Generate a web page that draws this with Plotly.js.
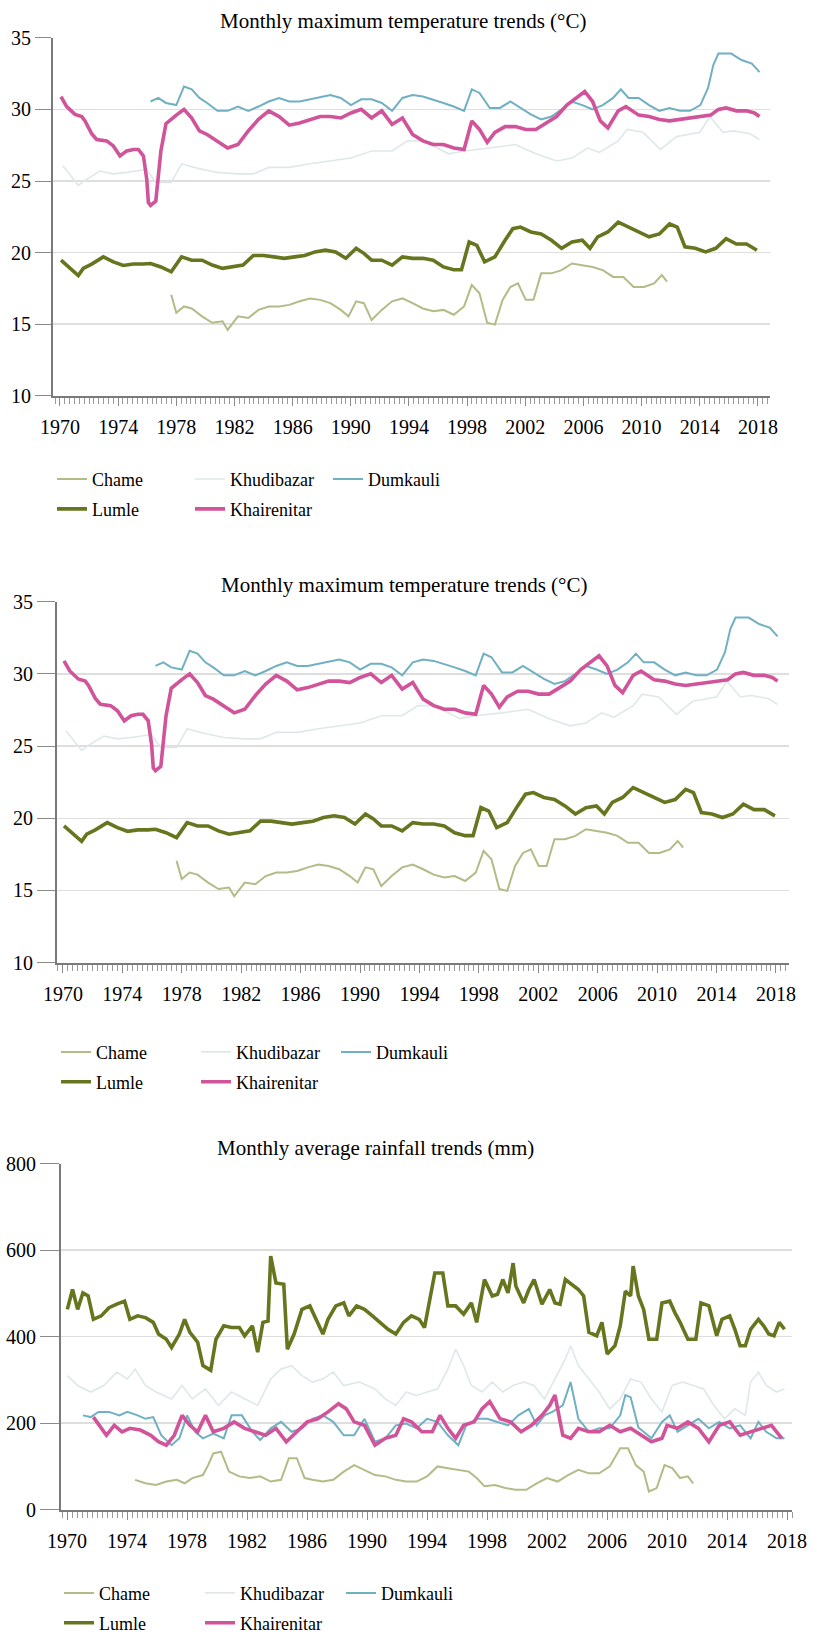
<!DOCTYPE html>
<html>
<head>
<meta charset="utf-8">
<script src="https://cdn.plot.ly/plotly-3.0.1.min.js"></script>
<style>
  html, body { margin: 0; padding: 0; background: #ffffff; }
  #chart { width: 813px; height: 1642px; }
</style>
</head>
<body>
<div id="chart"></div>
<script>
// ---------------- DATA ----------------
const tickYears = [1970, 1974, 1978, 1982, 1986, 1990, 1994, 1998, 2002, 2006, 2010, 2014, 2018];
const tickLabels = ["1970", "1974", "1978", "1982", "1986", "1990", "1994", "1998", "2002", "2006", "2010", "2014", "2018"];
const tempTicks = [10, 15, 20, 25, 30, 35];
const rainTicks = [0, 200, 400, 600, 800];
const stationNames = ["Chame", "Khudibazar", "Dumkauli", "Lumle", "Khairenitar"];
const titleTemp = "Monthly maximum temperature trends (°C)";
const titleRain = "Monthly average rainfall trends (mm)";

// Temperature (°C)
const tChameYears = [1977.65,1978.0,1978.53,1979.06,1979.77,1980.47,1981.18,1981.53,1982.24,1982.95,1983.65,1984.36,1985.07,1985.77,1986.48,1987.19,1987.89,1988.6,1989.31,1989.84,1990.37,1990.9,1991.43,1992.13,1992.84,1993.55,1994.25,1994.96,1995.67,1996.37,1997.08,1997.79,1998.32,1998.85,1999.38,1999.91,2000.44,2000.97,2001.5,2002.03,2002.56,2003.09,2003.8,2004.5,2005.21,2005.92,2006.63,2007.33,2008.04,2008.75,2009.45,2010.16,2010.86,2011.39,2011.75];
const tChame = [17.05,15.8,16.24,16.1,15.55,15.1,15.2,14.6,15.55,15.43,16.0,16.24,16.24,16.35,16.6,16.8,16.7,16.47,16.0,15.55,16.6,16.47,15.3,16.0,16.6,16.8,16.47,16.1,15.9,16.0,15.66,16.24,17.74,17.16,15.1,14.97,16.7,17.6,17.85,16.7,16.7,18.55,18.55,18.78,19.24,19.13,19.0,18.78,18.3,18.3,17.6,17.6,17.85,18.43,17.97];

const tKhudiYears = [1970.2,1971.26,1971.8,1972.75,1973.67,1974.6,1975.96,1976.59,1977.65,1978.36,1979.41,1980.83,1982.24,1983.3,1984.36,1985.77,1987.19,1988.6,1990.01,1991.43,1992.84,1993.9,1994.96,1996.73,1997.79,1999.56,2001.32,2002.73,2004.15,2005.21,2006.27,2007.1,2008.39,2009.0,2010.1,2011.3,2012.4,2014.0,2014.7,2015.6,2016.3,2017.45,2018.1];
const tKhudi = [26.06,24.7,25.1,25.7,25.5,25.6,25.8,24.9,24.9,26.2,25.9,25.6,25.5,25.5,25.95,25.95,26.2,26.4,26.6,27.1,27.1,27.8,27.8,26.9,27.1,27.3,27.55,26.9,26.4,26.6,27.3,27.0,27.8,28.6,28.4,27.2,28.1,28.4,29.5,28.4,28.5,28.3,27.9];

const tDumkYears = [1976.23,1976.76,1977.29,1978.0,1978.53,1979.06,1979.59,1980.12,1980.83,1981.53,1982.24,1982.95,1983.65,1984.36,1985.07,1985.77,1986.48,1987.19,1987.89,1988.6,1989.31,1990.01,1990.72,1991.43,1992.13,1992.84,1993.55,1994.25,1994.96,1995.67,1996.37,1997.08,1997.79,1998.32,1998.85,1999.56,2000.26,2000.97,2001.67,2002.38,2003.09,2003.8,2004.5,2005.21,2005.92,2006.63,2007.33,2008.04,2008.57,2009.1,2009.8,2010.51,2011.22,2011.92,2012.63,2013.33,2014.04,2014.57,2014.93,2015.28,2015.81,2016.16,2016.87,2017.58,2018.11];
const tDumk = [30.55,30.8,30.45,30.3,31.6,31.4,30.8,30.45,29.9,29.9,30.2,29.9,30.2,30.55,30.8,30.55,30.55,30.7,30.9,31.0,30.8,30.3,30.7,30.7,30.45,29.9,30.8,31.0,30.9,30.7,30.45,30.2,29.9,31.4,31.15,30.1,30.1,30.55,30.1,29.65,29.3,29.5,30.0,30.55,30.3,30.0,30.3,30.8,31.4,30.8,30.8,30.3,29.9,30.1,29.9,29.9,30.3,31.5,33.1,33.9,33.9,33.9,33.45,33.2,32.6];

const tLumleYears = [1970.07,1970.46,1971.26,1971.6,1972.18,1972.98,1973.67,1974.35,1975.04,1975.73,1976.23,1976.94,1977.65,1978.36,1979.06,1979.77,1980.47,1981.18,1981.89,1982.59,1983.3,1984.01,1984.71,1985.42,1986.13,1986.83,1987.54,1988.25,1988.95,1989.66,1990.37,1990.9,1991.43,1992.13,1992.84,1993.55,1994.25,1994.96,1995.67,1996.37,1997.08,1997.61,1998.14,1998.67,1999.2,1999.91,2000.61,2001.14,2001.67,2002.38,2003.09,2003.8,2004.5,2005.21,2005.92,2006.45,2006.98,2007.68,2008.39,2009.1,2009.8,2010.51,2011.22,2011.92,2012.45,2012.98,2013.69,2014.4,2015.1,2015.81,2016.52,2017.22,2017.93];
const tLumle = [19.47,19.1,18.4,18.9,19.2,19.7,19.35,19.1,19.2,19.2,19.24,19.0,18.66,19.7,19.47,19.47,19.13,18.9,19.0,19.13,19.8,19.8,19.7,19.6,19.7,19.8,20.05,20.17,20.05,19.6,20.3,19.95,19.47,19.47,19.13,19.7,19.6,19.6,19.47,19.0,18.8,18.8,20.74,20.5,19.36,19.7,20.86,21.67,21.78,21.44,21.3,20.86,20.3,20.74,20.86,20.3,21.1,21.44,22.13,21.78,21.44,21.1,21.3,22.0,21.78,20.4,20.3,20.05,20.3,20.98,20.6,20.6,20.17];

const tKhairYears = [1970.07,1970.46,1971.03,1971.5,1971.72,1972.18,1972.52,1973.21,1973.67,1974.13,1974.59,1975.05,1975.39,1975.74,1975.97,1976.08,1976.23,1976.59,1976.94,1977.29,1978.0,1978.53,1979.06,1979.59,1980.12,1980.83,1981.53,1982.24,1982.95,1983.65,1984.36,1985.07,1985.77,1986.48,1987.19,1987.89,1988.6,1989.31,1990.01,1990.72,1991.43,1992.13,1992.84,1993.55,1994.25,1994.96,1995.67,1996.37,1997.08,1997.79,1998.32,1998.85,1999.38,1999.91,2000.61,2001.32,2002.03,2002.73,2003.44,2004.15,2004.86,2005.56,2006.09,2006.63,2007.16,2007.68,2008.39,2008.92,2009.8,2010.51,2011.22,2011.92,2012.63,2013.33,2014.04,2014.75,2015.28,2015.81,2016.52,2017.22,2017.76,2018.11];
const tKhair = [30.9,30.2,29.65,29.5,29.2,28.3,27.9,27.8,27.45,26.75,27.1,27.2,27.2,26.75,25.1,23.5,23.3,23.6,27.1,29.0,29.6,30.0,29.4,28.5,28.25,27.8,27.3,27.55,28.5,29.3,29.9,29.5,28.9,29.05,29.3,29.5,29.5,29.4,29.75,30.0,29.4,29.9,28.95,29.4,28.25,27.8,27.55,27.55,27.3,27.2,29.2,28.6,27.7,28.4,28.8,28.8,28.6,28.6,29.05,29.5,30.3,30.8,31.25,30.55,29.2,28.7,29.9,30.2,29.6,29.5,29.3,29.2,29.3,29.4,29.5,29.6,30.0,30.1,29.9,29.9,29.75,29.5];

// Rainfall (mm)
const rChameYears = [1974.54,1975.23,1975.93,1976.62,1977.32,1977.84,1978.36,1979.06,1979.41,1979.75,1980.27,1980.8,1981.49,1982.19,1982.88,1983.58,1984.27,1984.79,1985.32,1985.84,1986.36,1987.06,1987.75,1988.45,1989.14,1989.83,1990.53,1991.22,1991.92,1992.61,1993.31,1994.0,1994.7,1995.39,1996.09,1996.79,1997.31,1997.83,1998.53,1999.22,1999.92,2000.61,2001.31,2002.0,2002.7,2003.4,2004.09,2004.79,2005.48,2006.18,2006.88,2007.4,2007.92,2008.44,2008.79,2009.31,2009.83,2010.35,2010.87,2011.39,2011.74];
const rChame = [69,61,57,65,69,61,73,80,103,130,134,88,77,73,77,65,69,119,119,73,69,65,69,88,103,92,80,77,69,65,65,77,100,96,92,88,73,54,57,50,46,46,61,73,65,80,92,84,84,100,142,142,103,88,42,50,103,96,73,77,61];

const rKhudiYears = [1970.02,1970.71,1971.58,1972.45,1973.32,1974.02,1974.54,1975.23,1975.93,1976.97,1977.67,1978.36,1979.23,1980.1,1980.97,1981.84,1982.71,1983.58,1984.27,1984.97,1985.66,1986.36,1987.06,1987.75,1988.45,1989.49,1990.53,1991.22,1991.92,1992.61,1993.31,1994.0,1994.7,1995.39,1995.91,1996.44,1996.96,1997.66,1998.35,1999.05,1999.74,2000.44,2001.14,2001.83,2002.53,2003.22,2003.57,2004.09,2004.79,2005.48,2006.18,2006.88,2007.57,2008.26,2008.96,2009.66,2010.35,2011.05,2011.74,2012.44,2013.13,2013.83,2014.52,2015.22,2015.57,2016.09,2016.61,2017.3,2017.83];
const rKhudi = [310,287,272,287,318,302,325,287,272,256,287,256,279,241,272,256,241,302,325,333,310,295,302,318,287,295,279,256,241,272,264,272,279,325,371,333,287,272,295,272,287,295,287,256,302,348,379,333,302,272,233,256,302,295,256,226,287,295,287,279,241,210,233,218,295,318,287,272,279];

const rDumkYears = [1971.06,1971.58,1972.1,1972.8,1973.49,1974.02,1974.71,1975.23,1975.75,1976.28,1976.97,1977.49,1978.01,1978.54,1979.06,1979.75,1980.45,1980.97,1981.66,1982.36,1982.88,1983.58,1984.27,1984.97,1985.66,1986.36,1987.06,1987.75,1988.45,1989.14,1989.83,1990.53,1991.22,1991.92,1992.61,1993.31,1994.0,1994.7,1995.39,1996.09,1996.61,1997.31,1998.01,1998.7,1999.4,2000.09,2000.79,2001.31,2001.83,2002.35,2003.05,2003.57,2004.09,2004.79,2005.48,2006.18,2006.88,2007.22,2007.57,2008.09,2008.96,2009.66,2010.18,2010.7,2011.39,2012.09,2012.79,2013.48,2014.18,2014.87,2015.57,2016.09,2016.61,2017.3,2017.83];
const rDumk = [218,214,226,226,218,226,218,210,214,172,149,165,218,180,165,176,165,218,218,180,161,188,203,180,188,210,218,203,172,172,210,157,165,195,199,188,210,203,172,149,195,210,210,203,195,218,233,195,218,226,241,295,210,180,188,188,218,265,260,190,165,203,218,180,195,210,188,203,188,195,165,203,180,165,165];

const rLumleYears = [1970.02,1970.37,1970.71,1971.06,1971.41,1971.76,1972.28,1972.8,1973.32,1973.84,1974.19,1974.71,1975.23,1975.75,1976.1,1976.62,1976.97,1977.49,1977.84,1978.19,1978.71,1979.06,1979.58,1979.93,1980.45,1980.97,1981.49,1981.84,1982.36,1982.71,1983.06,1983.4,1983.58,1983.93,1984.45,1984.69,1985.14,1985.66,1986.19,1986.71,1987.06,1987.4,1987.92,1988.45,1988.79,1989.31,1989.83,1990.36,1990.88,1991.4,1991.92,1992.44,1992.96,1993.48,1993.83,1994.17,1994.52,1995.05,1995.39,1995.91,1996.44,1996.96,1997.31,1997.83,1998.35,1998.7,1999.05,1999.4,1999.74,1999.92,2000.44,2000.79,2001.14,2001.66,2002.18,2002.53,2002.87,2003.22,2003.74,2004.09,2004.44,2004.79,2005.31,2005.66,2006.01,2006.53,2006.88,2007.22,2007.57,2007.74,2008.09,2008.44,2008.79,2009.31,2009.66,2010.18,2010.53,2010.87,2011.39,2011.92,2012.26,2012.79,2013.31,2013.66,2014.18,2014.52,2014.87,2015.22,2015.57,2016.09,2016.44,2016.78,2017.13,2017.48,2017.83];
const rLumle = [463,509,463,501,494,440,448,467,475,482,440,448,444,433,406,394,375,406,440,410,387,333,322,394,425,421,421,402,425,364,433,436,586,524,521,371,406,463,471,433,406,440,471,478,448,471,463,448,433,417,406,433,448,440,421,486,547,547,471,471,452,478,433,532,494,498,532,501,570,517,478,509,532,475,509,478,475,532,517,509,494,410,402,433,360,379,425,505,494,563,494,463,394,394,478,482,455,433,394,394,478,471,402,440,448,417,379,379,417,440,425,406,402,433,417];

const rKhairYears = [1971.76,1972.28,1972.63,1973.15,1973.67,1974.19,1974.89,1975.58,1976.1,1976.62,1977.15,1977.67,1978.19,1978.71,1979.23,1979.75,1980.45,1981.14,1981.84,1982.53,1983.23,1983.93,1984.62,1985.32,1986.01,1986.71,1987.4,1988.1,1988.62,1989.14,1989.83,1990.53,1991.22,1991.92,1992.44,1992.96,1993.66,1994.35,1994.87,1995.39,1995.91,1996.44,1997.14,1997.66,1998.18,1998.87,1999.57,2000.27,2000.96,2001.66,2002.18,2002.53,2003.05,2003.57,2004.09,2004.79,2005.48,2006.18,2006.88,2007.57,2008.26,2008.96,2009.66,2010.0,2010.7,2011.39,2012.09,2012.79,2013.48,2014.18,2014.87,2015.57,2016.26,2016.96,2017.65];
const rKhair = [214,188,172,195,180,188,184,172,157,149,172,218,195,180,218,180,188,203,188,180,172,188,157,180,203,210,226,245,233,203,195,149,165,172,210,203,180,180,218,188,165,195,203,233,250,210,203,180,195,218,241,265,172,165,188,180,180,195,180,188,172,157,165,195,188,203,188,157,195,203,172,180,188,195,165];

// ---------------- STYLE ----------------
const W = 813, H = 1642;
const px = v => v / W;
const py = v => 1 - v / H;
const FONT = "Liberation Serif, Times New Roman, serif";
const stationStyle = {
  Chame:      { color: "#b3bb86", width: 2 },
  Khudibazar: { color: "#dfe8e9", width: 1.6 },
  Dumkauli:   { color: "#6fb0c3", width: 2 },
  Lumle:      { color: "#66761f", width: 3.6 },
  Khairenitar:{ color: "#d1539a", width: 3.6 }
};

const tempSeries = {
  Chame: [tChameYears, tChame], Khudibazar: [tKhudiYears, tKhudi], Dumkauli: [tDumkYears, tDumk],
  Lumle: [tLumleYears, tLumle], Khairenitar: [tKhairYears, tKhair]
};
const rainSeries = {
  Chame: [rChameYears, rChame], Khudibazar: [rKhudiYears, rKhudi], Dumkauli: [rDumkYears, rDumk],
  Lumle: [rLumleYears, rLumle], Khairenitar: [rKhairYears, rKhair]
};

function panelTraces(series, xa, ya, legTop, legBottom) {
  return stationNames.map(name => {
    const st = stationStyle[name];
    const row2 = (name === "Lumle" || name === "Khairenitar");
    return {
      type: "scatter", mode: "lines", name: name,
      x: series[name][0], y: series[name][1],
      xaxis: xa, yaxis: ya,
      legend: row2 ? legBottom : legTop,
      line: { color: st.color, width: st.width },
      hoverinfo: "skip"
    };
  });
}

const traces = [].concat(
  panelTraces(tempSeries, "x", "y", "legend", "legend2"),
  panelTraces(tempSeries, "x2", "y2", "legend3", "legend4"),
  panelTraces(rainSeries, "x3", "y3", "legend5", "legend6")
);

function xAxis(d0, d1, r0, r1, anchor) {
  return {
    domain: [px(d0), px(d1)], range: [r0, r1], anchor: anchor,
    tickmode: "array", tickvals: tickYears, ticktext: tickLabels,
    ticks: "outside", ticklen: 8, tickwidth: 1, tickcolor: "#8a8a8a",
    ticklabelstandoff: 4,
    minor: { ticks: "outside", ticklen: 6, tickwidth: 1, tickcolor: "#9a9a9a", tick0: 1970, dtick: 1 / 3, showgrid: false },
    showline: true, linecolor: "#7a7a7a", linewidth: 2,
    showgrid: false, zeroline: false, fixedrange: true,
    tickfont: { family: FONT, size: 20, color: "#000" }
  };
}
function yAxis(top, bottom, range, tv, anchor, tl) {
  return {
    domain: [py(bottom), py(top)], range: range, anchor: anchor,
    tickmode: "array", tickvals: tv,
    ticks: "outside", ticklen: tl, tickwidth: 1, tickcolor: "#8a8a8a",
    showline: true, linecolor: "#7a7a7a", linewidth: 2,
    showgrid: true, gridcolor: "#dedede", gridwidth: 1.5,
    zeroline: false, fixedrange: true,
    tickfont: { family: FONT, size: 20, color: "#000" }
  };
}
function legendRow(x, y, ew) {
  return {
    orientation: "h", x: px(x), y: py(y), xanchor: "left", yanchor: "middle",
    entrywidth: ew, entrywidthmode: "pixels",
    bgcolor: "rgba(0,0,0,0)", borderwidth: 0,
    font: { family: FONT, size: 18, color: "#000" },
    itemclick: false, itemdoubleclick: false
  };
}
function titleAnn(text, x, y) {
  return {
    text: text, xref: "paper", yref: "paper", x: px(x), y: py(y),
    xanchor: "center", yanchor: "middle", showarrow: false,
    font: { family: FONT, size: 21, color: "#000" }
  };
}

const layout = {
  width: W, height: H,
  margin: { l: 0, r: 0, t: 0, b: 0, pad: 0 },
  paper_bgcolor: "#ffffff", plot_bgcolor: "#ffffff",
  showlegend: true, hovermode: false,
  xaxis:  xAxis(53, 770, 1969.52, 2018.83, "y"),
  yaxis:  yAxis(38, 398, [10, 35], tempTicks, "x", 16),
  xaxis2: xAxis(57, 789, 1969.6, 2018.88, "y2"),
  yaxis2: yAxis(605, 968, [10, 35], tempTicks, "x2", 18),
  xaxis3: xAxis(61, 792, 1969.6, 2018.33, "y3"),
  yaxis3: yAxis(1170, 1518, [0, 800], rainTicks, "x3", 19),
  legend:  legendRow(52, 482, 93),
  legend2: legendRow(52, 512, 93),
  legend3: legendRow(56, 1058, 95),
  legend4: legendRow(56, 1088, 95),
  legend5: legendRow(59, 1602, 96),
  legend6: legendRow(59, 1632, 96),
  annotations: [
    titleAnn(titleTemp, 403, 21),
    titleAnn(titleTemp, 404, 588),
    titleAnn(titleRain, 375, 1154)
  ]
};

Plotly.newPlot("chart", traces, layout, { displayModeBar: false, staticPlot: true });
</script>
</body>
</html>
